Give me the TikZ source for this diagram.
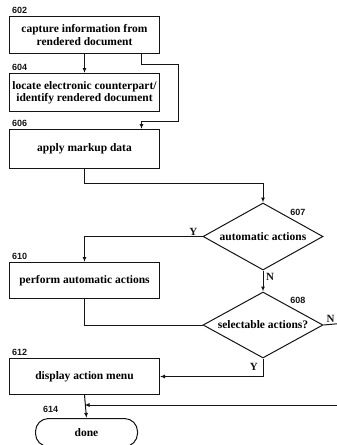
\documentclass[tikz,border=0pt]{standalone}
\usepackage{fontspec}
\setmainfont{Liberation Serif}
\newfontfamily\tagfont{Liberation Sans}
\usepackage{tikz}
\usetikzlibrary{shapes.geometric, arrows.meta, positioning, calc}
\definecolor{inkblack}{HTML}{141414}

\begin{document}
\begin{tikzpicture}[
    x=1pt, y=-1pt,
    every node/.style={font=\fontsize{11.5}{12.5}\selectfont\bfseries},
    box/.style={
        rectangle,
        draw=inkblack,
        line width=1pt,
        minimum width=150pt,
        minimum height=37pt,
        inner sep=1pt,
        text centered,
        align=center
    },
    decision/.style={
        diamond,
        aspect=1.8,
        draw=inkblack,
        line width=1pt,
        minimum width=120pt,
        minimum height=66pt,
        inner sep=0pt,
        align=center
    },
    terminal/.style={
        rectangle,
        rounded corners=13pt,
        draw=inkblack,
        line width=1pt,
        minimum width=102pt,
        minimum height=28pt,
        inner sep=1pt
    },
    tag/.style={
        font=\tagfont\fontsize{9}{9}\selectfont\bfseries,
        text=inkblack,
        inner sep=0pt
    },
    answer/.style={
        font=\fontsize{11}{11}\selectfont\bfseries,
        text=inkblack,
        inner sep=0pt
    },
    flow/.style={
        ->,
        >={Latex[length=5pt,width=4pt]},
        line width=1pt,
        draw=inkblack
    },
    plain/.style={
        line width=1pt,
        draw=inkblack
    }
]
\useasboundingbox (0,0) rectangle (337,445);

% Upper steps
\node[box, anchor=north west] (capture) at (9,16) {capture information from\\rendered document};
\node[box, minimum height=38pt, below=19pt of capture.south west, anchor=north west] (locate) {locate electronic counterpart/\\identify rendered document};
\node[box, minimum height=39pt, below=17pt of locate.south west, anchor=north west] (markup) {apply markup data};

% Decisions
\node[decision, minimum height=67pt] (automatic) at (263,236.5) {automatic actions};
\node[decision, below=21pt of automatic] (selectable) {selectable actions?};

% Lower steps
\node[box, minimum height=36pt, anchor=north west] (perform) at (9,262) {perform automatic actions};
\node[box, minimum height=36pt, anchor=north west] (menu) at (9,358) {display action menu};
\node[terminal, anchor=north west] (done) at (35,418) {done};

% Reference numbers
\node[tag, above right=2pt and 3pt of capture.north west, anchor=south west] {602};
\node[tag, above right=2pt and 3pt of locate.north west, anchor=south west] {604};
\node[tag, above right=2pt and 3pt of markup.north west, anchor=south west] {606};
\node[tag, above right=4pt and -3pt of automatic.north east, anchor=south west] {607};
\node[tag, above right=2pt and 3pt of perform.north west, anchor=south west] {610};
\node[tag, above right=4pt and -3pt of selectable.north east, anchor=south west] {608};
\node[tag, above right=2pt and 3pt of menu.north west, anchor=south west] {612};
\node[tag, above right=5pt and 8pt of done.north west, anchor=south west] {614};

% Answers
\node[answer, above left=1pt and 5pt of automatic.west] {Y};
\node[answer, below right=3pt and 3pt of automatic.south] {N};
\node[answer, above right=2pt and 3pt of selectable.east] {N};
\node[answer, below left=5pt and 5pt of selectable.south] {Y};

% Free ends at the right margin
\coordinate (outN) at (340,323.5);
\coordinate (backN) at (340,405);

% Arrows
\draw[flow] (capture.south) -- (locate.north);
\draw[flow] ([xshift=57pt]capture.south) |- ($(locate.north east)+(18pt,9pt)$) |- ($(markup.north)+(57pt,8pt)$) -- ([xshift=57pt]markup.north);
\draw[flow] (markup.south) |- ($(automatic.north)+(0,19pt)$) -- (automatic.north);
\draw[flow] (automatic.west) -| (perform.north);
\draw[flow] (automatic.south) -- (selectable.north);
\draw[plain] (perform.south) |- (selectable.west);
\draw[plain] (selectable.east) -- (outN);
\draw[flow] (selectable.south) |- (menu.east);
\draw[flow] (menu.south) -- (done.north);
\draw[flow] (backN) -- (backN -| menu.south);

\end{tikzpicture}
\end{document}
